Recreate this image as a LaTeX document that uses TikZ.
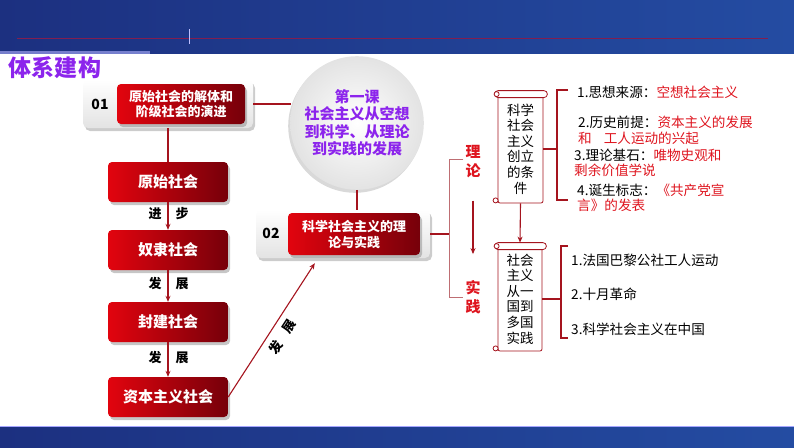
\documentclass[tikz,border=0pt]{standalone}
\usepackage{fontspec}
\setmainfont{Noto Sans CJK SC}
\usepackage{tikz}
\usetikzlibrary{arrows.meta,shadows,positioning}

\definecolor{barL}{RGB}{28,48,128}
\definecolor{barR}{RGB}{36,76,162}
\definecolor{barline}{RGB}{130,30,80}
\definecolor{boxredL}{RGB}{226,4,14}
\definecolor{boxredR}{RGB}{118,0,10}
\definecolor{linered}{RGB}{165,20,30}
\definecolor{itemred}{RGB}{222,20,30}
\definecolor{lessonpurple}{RGB}{140,36,236}
\definecolor{brkpink}{RGB}{190,110,115}

\tikzset{
  redbox/.style={rounded corners=4pt, left color=boxredL, right color=boxredR, text=white,
    align=center, drop shadow={opacity=.45, shadow xshift=2pt, shadow yshift=-3pt}},
  colbox/.style={redbox, minimum width=120pt, minimum height=40pt,
    font=\fontsize{15}{17}\selectfont\bfseries},
  graybox/.style={rounded corners=5pt, top color=white, bottom color=gray!22,
    drop shadow={opacity=.4, shadow xshift=2pt, shadow yshift=-3pt}},
  link/.style={draw=linered, line width=1.1pt},
  arr/.style={link, -{Stealth[length=6pt,width=5pt]}},
  steplabel/.style={font=\fontsize{13}{13}\selectfont\bfseries, inner sep=0pt},
  scrollbody/.style={draw=linered, fill=white, line width=0.8pt, rounded corners=2pt,
    align=center, font=\fontsize{13.5}{15.6}\selectfont, inner sep=0pt},
  scrollline/.style={draw=linered, fill=white, line width=0.8pt},
  item/.style={anchor=west, inner sep=0pt, font=\fontsize{13.6}{13.6}\selectfont}
}

\begin{document}
\begin{tikzpicture}[x=1pt,y=-1pt]
	\useasboundingbox (0,0) rectangle (794,447);
	% bars
	\fill[left color=barL, right color=barR] (0,0) rectangle (794,53);
	\fill[blue!30!white, opacity=.6] (0,51) rectangle (150,54);
	\draw[barline, line width=0.8pt] (17,38) -- (768,38);
	\draw[blue!25!white, line width=0.8pt] (189,29) -- (189,44);
	\fill[left color=barL, right color=barR] (0,426) rectangle (794,447);
	\draw[blue!35!white, line width=0.8pt] (0,426) -- (794,426);

	\node[font=\fontsize{23}{23}\selectfont\bfseries, text=lessonpurple, inner sep=0pt] (title) at (55,68) {体系建构};

	% part 01
	\node[graybox, minimum width=170pt, minimum height=48pt] (box01) at (168,104) {};
	\node[redbox, minimum width=128pt, minimum height=40pt, font=\fontsize{13}{15}\selectfont\bfseries] (t01) at (181,104) {原始社会的解体和\\阶级社会的演进};
	\node[steplabel, font=\fontsize{14}{14}\selectfont\bfseries] (n01) at (100,104) {01};

	% column of societies
	\node[colbox] (yuanshi) at (168,182) {原始社会};
	\node[colbox] (nuli) at (168,250) {奴隶社会};
	\node[colbox] (fengjian) at (168,322) {封建社会};
	\node[colbox] (ziben) at (168,397) {资本主义社会};
	\draw[link] (box01.south) -- (yuanshi.north);
	\draw[arr] (yuanshi) -- (nuli) node[steplabel, midway, xshift=-13pt, yshift=2pt] {进} node[steplabel, midway, xshift=14pt, yshift=2pt] {步};
	\draw[arr] (nuli) -- (fengjian) node[steplabel, midway, xshift=-13pt, yshift=2pt] {发} node[steplabel, midway, xshift=14pt, yshift=2pt] {展};
	\draw[arr] (fengjian) -- (ziben) node[steplabel, midway, xshift=-13pt, yshift=2pt] {发} node[steplabel, midway, xshift=14pt, yshift=2pt] {展};

	% lesson circle
	\draw[link] (box01.east) -- (291,104) coordinate (c01);
	\node[circle, minimum size=132pt, inner color=white, outer color=gray!22,
		drop shadow={opacity=.3, shadow xshift=-2pt, shadow yshift=-3pt},
		text=lessonpurple, align=center, font=\fontsize{15}{17.5}\selectfont\bfseries] (circ) at (357,123)
		{第一课\\社会主义从空想\\到科学、从理论\\到实践的发展};

	% part 02
	\node[graybox, minimum width=174pt, minimum height=48pt] (box02) at (343,234) {};
	\node[redbox, minimum width=132pt, minimum height=42pt, font=\fontsize{13}{16}\selectfont\bfseries] (t02) at (354,234) {科学社会主义的理\\论与实践};
	\node[steplabel, font=\fontsize{14}{14}\selectfont\bfseries] (n02) at (271,233) {02};
	\draw[link] (circ.south) -- (circ.south |- box02.north);
	\coordinate (tip02) at ([xshift=59pt,yshift=-5pt]box02.south west);
	\draw[arr] (ziben.east) -- (tip02) node[steplabel, midway, sloped, below=6pt] {发\hspace{12pt}展};

	% theory / practice
	\node[text=itemred, align=center, inner sep=0pt, font=\fontsize{15}{19}\selectfont\bfseries] (lilun) at (473,162) {理\\论};
	\node[text=itemred, align=center, inner sep=0pt, font=\fontsize{15}{19}\selectfont\bfseries] (shijian) at (473,297) {实\\践};
	\coordinate (bt) at (449,159);
	\coordinate (bb) at (449,297);
	\draw[brkpink, line width=0.9pt] ([xshift=-2pt]bt -| lilun.west) -- (bt) -- (bb) -- ([xshift=-2pt]bb -| shijian.west);
	\draw[link] (box02.east) -- (box02.east -| bt);
	\draw[arr] ([yshift=-22pt]lilun.south) -- ([yshift=26pt]shijian.north);

	% scrolls
	\node[scrollbody, minimum width=45pt, minimum height=108pt] (sc1) at (520.5,149) {科学\\社会\\主义\\创立\\的条\\件};
	\node[scrollbody, minimum width=44pt, minimum height=104pt] (sc2) at (520,299) {社会\\主义\\从一\\国到\\多国\\实践};
	\foreach \s in {sc1,sc2} {
		\draw[scrollline, rounded corners=3.5pt] ([xshift=-3pt,yshift=4pt]\s.north west) rectangle ([xshift=4pt,yshift=-3pt]\s.north east);
		\draw[scrollline] ([xshift=-1pt,yshift=0.5pt]\s.north west) circle (2.5pt);
		\draw[scrollline] ([xshift=-2pt,yshift=3pt]\s.south west) circle (2.5pt);
	}
	\draw[arr] (sc1.south) -- ([yshift=4pt]sc2.north);

	% conditions
	\draw[link] (sc1.east) -- (557,149);
	\draw[link] (568,90) -- (557,90) -- (557,200) -- (568,200);
	\node[item] (i1) at (577,92) {1.思想来源：\textcolor{itemred}{空想社会主义}};
	\node[item] (i2a) at (578,122) {2.历史前提：\textcolor{itemred}{资本主义的发展}};
	\node[item, text=itemred] (i2b) at (578,138) {和\hspace{12pt}工人运动的兴起};
	\node[item] (i3a) at (574,155) {3.理论基石：\textcolor{itemred}{唯物史观和}};
	\node[item, text=itemred] (i3b) at (574,170) {剩余价值学说};
	\node[item] (i4a) at (577,190) {4.诞生标志：\textcolor{itemred}{《共产党宣}};
	\node[item, text=itemred] (i4b) at (577,205) {言》的发表};

	% practice
	\draw[link] (sc2.east) -- (561,299);
	\draw[link] (568,246) -- (561,246) -- (561,338) -- (568,338);
	\node[item] (j1) at (571,260) {1.法国巴黎公社工人运动};
	\node[item] (j2) at (571,294) {2.十月革命};
	\node[item] (j3) at (571,329) {3.科学社会主义在中国};
\end{tikzpicture}
\end{document}
